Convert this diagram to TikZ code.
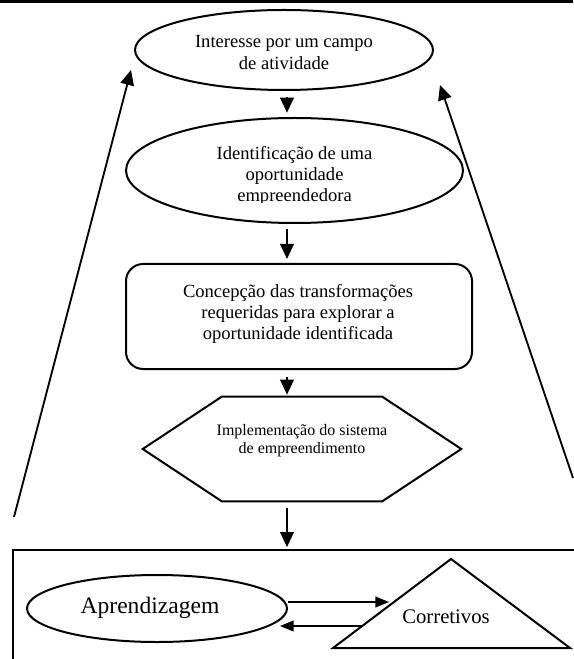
\documentclass[tikz,border=0pt]{standalone}
\usepackage{fontspec}
\setmainfont{Liberation Serif}
\usetikzlibrary{shapes.geometric,arrows.meta}
\begin{document}
\begin{tikzpicture}[x=0.7pt,y=-0.7pt,
  shp/.style={draw,line width=1.4pt},
  txt/.style={align=center,inner sep=0pt,font=\fontsize{13}{15}\selectfont},
  smalltxt/.style={align=center,inner sep=0pt,font=\fontsize{11.2}{12.7}\selectfont},
  arr/.style={-{Triangle[length=10.5pt,width=9.5pt]},line width=1.3pt},
  arrsm/.style={-{Triangle[length=9.5pt,width=7.5pt]},line width=1.2pt}
]
\useasboundingbox (0,0) rectangle (573,659);
% top rule
\coordinate (rl) at (0,1.5);
\coordinate (rr) at (573,1.5);
\draw[line width=2pt] (rl) -- (rr);
% column of arrows
\coordinate (ax) at (287,0);
% shapes
\node[shp,ellipse,minimum width=208.6pt,minimum height=56pt,inner sep=0pt] (e1) at (284,50) {};
\node[txt] (t1) at (284,52.5) {Interesse por um campo\\de atividade};
\node[shp,ellipse,minimum width=235.9pt,minimum height=73.5pt,inner sep=0pt] (e2) at (294.5,170.5) {};
\begin{scope}
  \clip (0,0) rectangle (573,202.5);
  \node[txt] (t2) at (294.5,176) {Identificação de uma\\oportunidade\\empreendedora};
\end{scope}
\node[shp,rounded corners=12pt,minimum width=242.2pt,minimum height=73.5pt,inner sep=0pt] (r) at (299,316.5) {};
\node[txt] (t3) at (298,314) {Concepção das transformações\\requeridas para explorar a\\oportunidade identificada};
\node[minimum width=222.6pt,minimum height=72.8pt,inner sep=0pt] (hex) at (302,449) {};
\draw[shp] (hex.west) -- ([xshift=55.3pt]hex.north west) -- ([xshift=-55.3pt]hex.north east)
  -- (hex.east) -- ([xshift=-55.3pt]hex.south east) -- ([xshift=55.3pt]hex.south west) -- cycle;
\node[smalltxt] (t4) at (302,441) {Implementação do sistema\\de empreendimento};
% vertical arrows
\draw[arr,shorten <=4pt,shorten >=3pt] (e1.south -| ax) -- (e2.north -| ax);
\draw[arr,shorten <=3.5pt,shorten >=2.8pt] (e2.south -| ax) -- (r.north -| ax);
\draw[arr,shorten <=5pt,shorten >=1.4pt] (r.south -| ax) -- (hex.north -| ax);
% bottom box
\coordinate (bl) at (13,670);
\coordinate (btl) at (13,550);
\coordinate (btr) at (580,550);
\draw[shp] (bl) -- (btl) -- (btr);
\draw[arr,shorten <=5pt,shorten >=2pt] (hex.south -| ax) -- (btl -| ax);
% learning loop
\node[shp,ellipse,minimum width=182pt,minimum height=46.9pt,inner sep=0pt] (apr) at (157,608.5) {};
\node[inner sep=0pt,font=\fontsize{16.5}{18}\selectfont] (ta) at (150,608) {Aprendizagem};
\coordinate (tt) at (451,559);
\coordinate (tl) at (333,648);
\coordinate (tr) at (570,648);
\draw[shp] (tt) -- (tl) -- (tr) -- cycle;
\node[inner sep=0pt,font=\fontsize{14.5}{16}\selectfont] (cor) at (446,617) {Corretivos};
\coordinate (cin) at (389,602);
\coordinate (cout) at (362,626);
\coordinate (aback) at (280,626);
\draw[arrsm] ([yshift=4.55pt]apr.east) -- (cin);
\draw[arrsm] (cout) -- (aback);
% feedback arrows
\coordinate (lb) at (14,517);
\coordinate (lt) at (131,70);
\draw[arr] (lb) -- (lt);
\coordinate (rb) at (573,478);
\coordinate (rt) at (440,85);
\draw[arr] (rb) -- (rt);
\end{tikzpicture}
\end{document}
